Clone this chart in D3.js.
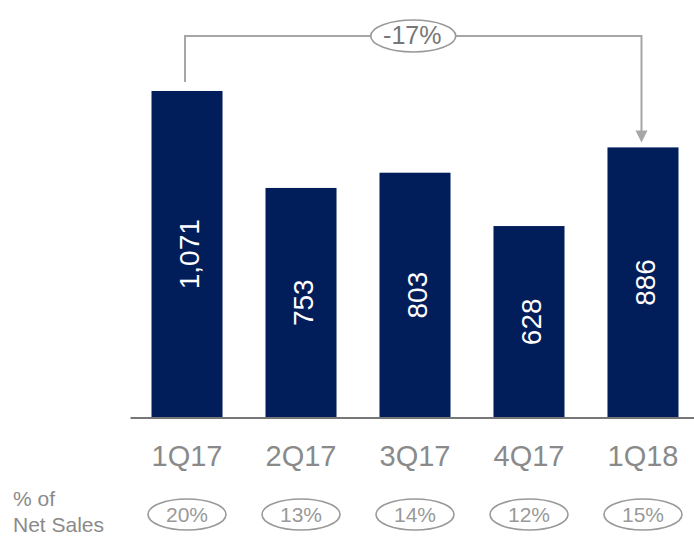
<!DOCTYPE html>
<html>
<head>
<meta charset="utf-8">
<script src="https://cdn.jsdelivr.net/npm/d3@7"></script>
<style>
  body { margin: 0; background: #fff; }
  svg { display: block; font-family: "Liberation Sans", Arial, sans-serif; }
</style>
</head>
<body>
<svg></svg>
<script>
// datos del grafico
var trimestres = ["1Q17", "2Q17", "3Q17", "4Q17", "1Q18"];
var valores = [1071, 753, 803, 628, 886];
var etiquetas = ["1,071", "753", "803", "628", "886"];
var pctVentas = ["20%", "13%", "14%", "12%", "15%"];
var cambio = "-17%";

var w = 694, h = 538;
var base = 417.5;

var svg = d3.select("svg").attr("width", w).attr("height", h);

var x = d3.scaleBand()
  .domain(trimestres)
  .range([130, 700])
  .paddingInner(0.377)
  .paddingOuter(0.1886);

var y = d3.scaleLinear()
  .domain([0, 1071])
  .range([base, 91]);

function centro(d) { return x(d) + x.bandwidth() / 2; }

// barras
svg.selectAll("rect.barra")
  .data(valores)
  .enter()
  .append("rect")
  .attr("class", "barra")
  .attr("x", function(d, i) { return x(trimestres[i]); })
  .attr("y", function(d) { return y(d); })
  .attr("width", x.bandwidth())
  .attr("height", function(d) { return base - y(d); })
  .attr("fill", "#011e5b");

// valores dentro de las barras (verticales)
svg.selectAll("text.valor")
  .data(valores)
  .enter()
  .append("text")
  .attr("class", "valor")
  .attr("transform", function(d, i) {
    return "translate(" + (centro(trimestres[i]) + 2) + "," + ((y(d) + base) / 2) + ") rotate(-90)";
  })
  .attr("text-anchor", "middle")
  .attr("dy", "0.36em")
  .attr("fill", "#fff")
  .style("font-size", "28px")
  .text(function(d, i) { return etiquetas[i]; });

// eje x
var eje = svg.append("g")
  .attr("transform", "translate(0," + base + ")")
  .call(d3.axisBottom(x).tickSize(0).tickPadding(28));
eje.select(".domain").attr("stroke", "#777").attr("stroke-width", 2);
eje.selectAll("text")
  .attr("fill", "#8a8a8a")
  .style("font-size", "29px")
  .style("font-family", "'Liberation Sans', Arial, sans-serif");

// % de ventas netas
svg.append("text")
  .attr("x", 13).attr("y", 506)
  .attr("fill", "#8a8a8a")
  .style("font-size", "21px")
  .text("% of");
svg.append("text")
  .attr("x", 13).attr("y", 532)
  .attr("fill", "#8a8a8a")
  .style("font-size", "21px")
  .text("Net Sales");

svg.selectAll("ellipse.pct")
  .data(pctVentas)
  .enter()
  .append("ellipse")
  .attr("class", "pct")
  .attr("cx", function(d, i) { return centro(trimestres[i]); })
  .attr("cy", 514.5)
  .attr("rx", 39)
  .attr("ry", 15.5)
  .attr("fill", "none")
  .attr("stroke", "#999")
  .attr("stroke-width", 1.6);

svg.selectAll("text.pct")
  .data(pctVentas)
  .enter()
  .append("text")
  .attr("class", "pct")
  .attr("x", function(d, i) { return centro(trimestres[i]); })
  .attr("y", 521.5)
  .attr("text-anchor", "middle")
  .attr("fill", "#999")
  .style("font-size", "21px")
  .text(function(d) { return d; });

// corchete con flecha de 1Q17 a 1Q18
var x1 = centro(trimestres[0]) - 2;
var x2 = centro(trimestres[4]) - 1.5;
var yTop = 36;
var gris = "#a6a6a6";

svg.append("path")
  .attr("d", "M" + x1 + "," + (y(valores[0]) - 9) + "V" + yTop + "H" + x2 + "V" + (y(valores[4]) - 15))
  .attr("fill", "none")
  .attr("stroke", gris)
  .attr("stroke-width", 2);

svg.append("path")
  .attr("d", "M" + (x2 - 6) + "," + (y(valores[4]) - 17) + "L" + (x2 + 6) + "," + (y(valores[4]) - 17) + "L" + x2 + "," + (y(valores[4]) - 5) + "Z")
  .attr("fill", gris);

var cx = (x1 + x2) / 2;
svg.append("ellipse")
  .attr("cx", cx).attr("cy", yTop)
  .attr("rx", 42.5).attr("ry", 16)
  .attr("fill", "#fff")
  .attr("stroke", "#999")
  .attr("stroke-width", 1.6);

svg.append("text")
  .attr("x", cx - 1).attr("y", 43.5)
  .attr("text-anchor", "middle")
  .attr("fill", "#777")
  .style("font-size", "25px")
  .text(cambio);
</script>
</body>
</html>
